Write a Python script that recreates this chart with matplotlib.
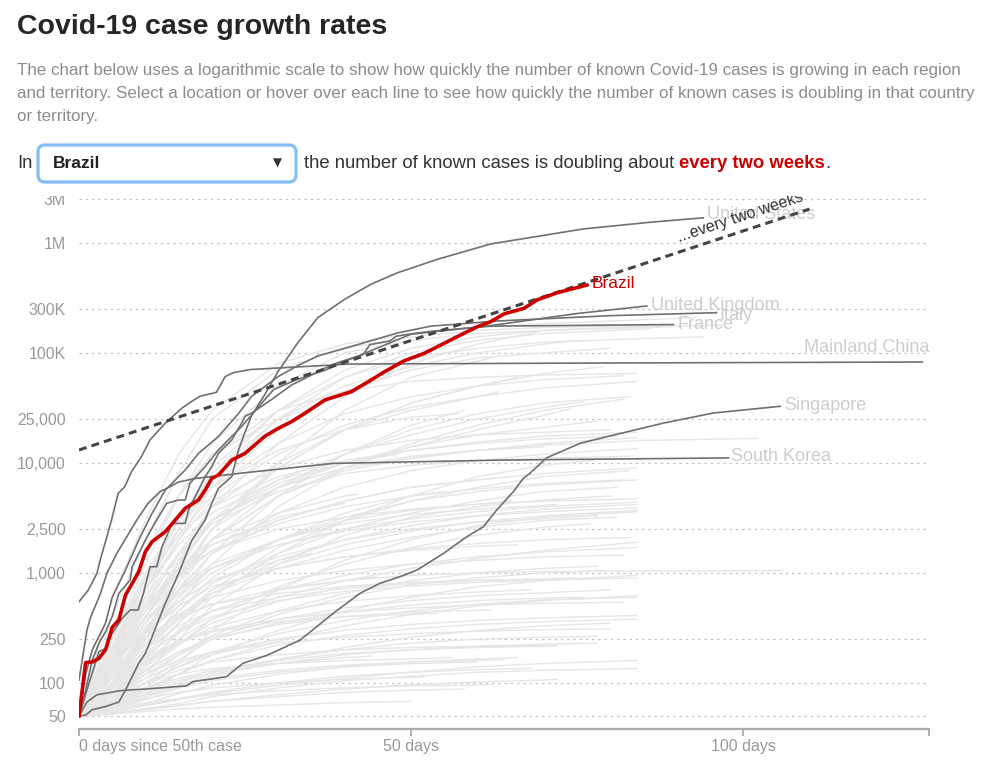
import matplotlib
matplotlib.use('Agg')
import matplotlib.pyplot as plt
from matplotlib.patches import FancyBboxPatch, Rectangle
from matplotlib.transforms import IdentityTransform

plt.rcParams['font.family'] = ['Liberation Sans', 'DejaVu Sans']

W, H = 986, 763

# axis ticks (the graphic rounds some of its tick labels)
y_ticks = [50, 100, 250, 1000, 2500, 10000, 25000, 100000, 250000, 1000000, 2500000]
y_tick_labels = ['50', '100', '250', '1,000', '2,500', '10,000', '25,000',
                 '100K', '300K', '1M', '3M']
x_ticks = [0, 50, 100, 128]
x_tick_labels = ['0 days since 50th case', '50 days', '100 days', '']

# selected country
brazil_days = [0, 1, 2, 3, 4, 5, 6, 7, 8, 9, 10, 11, 13, 16, 18, 19, 20, 21, 23, 25,
               28, 30, 32, 34, 37, 41, 44, 46, 49, 52, 54, 58, 60, 62, 64, 67, 69, 72, 76.5]
brazil_cases = [50, 153, 155, 167, 200, 320, 373, 630, 800, 1025, 1560, 1920, 2370, 3870,
                4600, 5670, 7240, 7760, 10600, 12200, 17500, 20600, 23700, 28200, 37300,
                44400, 56700, 67400, 84900, 99100, 114000, 151000, 173000, 192000, 226000,
                254000, 303000, 352000, 414000]

# other labelled locations
us_days = [0, 1, 2, 4, 6, 7, 8, 9, 10, 11, 12, 13, 15, 16, 17, 19, 20, 21, 23, 24, 25,
           26, 28, 30, 33, 36, 40, 44, 48, 54, 62, 68, 76, 86, 94]
us_cases = [50, 51, 57, 61, 67, 86, 114, 151, 186, 262, 373, 529, 991, 1403, 1990, 3026,
            4290, 5870, 7490, 13000, 19000, 27000, 42000, 68000, 125000, 210000, 307000,
            422000, 536000, 710000, 978000, 1120000, 1340000, 1540000, 1690000]

uk_days = [0, 1.5, 3, 4, 5, 6.5, 7.7, 8.9, 9.7, 10.2, 10.7, 11.7, 12.5, 13.4, 14, 16, 16.5,
           18, 19, 20, 21, 23, 24.5, 25, 26, 29, 32, 34, 38, 42, 50, 54, 62, 75, 85.5]
uk_cases = [50, 99, 192, 206, 282, 387, 460, 460, 651, 861, 1138, 1138, 1730, 2290, 2820,
            2820, 3730, 5670, 7490, 9260, 12200, 16200, 23000, 26500, 28400, 37700, 51000,
            58500, 77800, 93500, 148000, 157000, 177000, 228000, 267000]

italy_days = [0, 1, 2, 4, 5, 7, 9, 11, 13, 16, 18, 21, 24, 26, 30, 33, 36, 43, 48, 53, 63,
              80, 96]
italy_cases = [50, 120, 200, 350, 600, 1062, 1990, 3480, 5670, 8630, 12200, 17400, 28000,
               40300, 61000, 77000, 94000, 124000, 152000, 175000, 195000, 218000, 232000]

france_days = [0, 1, 2, 3, 4, 5, 6, 7.7, 8, 10, 11.4, 13.2, 15, 16, 16.7, 19, 21, 23,
               24.5, 29.3, 32.8, 35.8, 37.3, 39.3, 42.8, 43.8, 46.8, 47.8, 49.8, 52.9,
               61.9, 89.5]
france_cases = [50, 86, 162, 229, 292, 401, 651, 861, 1138, 1990, 2820, 4290, 4600, 4600,
                6520, 9260, 13100, 17400, 21500, 46400, 57200, 65800, 70600, 81300, 96800,
                119000, 128000, 142000, 148000, 157000, 175000, 181000]

china_days = [0, 1.4, 2.7, 3.2, 4.2, 4.9, 5.9, 6.9, 7.9, 9.4, 10.7, 13, 15.5, 17, 18.2,
              20.7, 22, 23.2, 25.8, 40.8, 78.4, 127]
china_cases = [547, 698, 991, 1310, 2134, 3026, 5290, 6080, 8300, 11400, 16200, 23000,
               31500, 36300, 40300, 43800, 60800, 66000, 70600, 79200, 80900, 82600]

singapore_days = [0, 1.2, 2.7, 6.2, 11.2, 16.2, 17.2, 19.7, 22.2, 24.7, 28.3, 33.3, 38.3,
                  42.3, 45.3, 48.3, 50.9, 54.9, 58.4, 60.9, 62.9, 65.4, 66.9, 67.9, 70.4,
                  75.5, 80.5, 88, 95.5, 105.6]
singapore_cases = [50, 67, 78, 85, 89, 94, 103, 108, 114, 151, 178, 245, 430, 651, 804, 922,
                   1062, 1506, 2134, 2630, 3730, 5470, 7220, 8040, 11100, 15100, 17900,
                   23000, 28400, 32700]

korea_days = [0, 1.2, 1.7, 2.2, 3.2, 4.2, 5.7, 7.2, 8.7, 10.4, 12.2, 13.7, 15, 17.5, 25,
              38.3, 63.4, 97.8]
korea_cases = [106, 303, 387, 460, 640, 991, 1506, 2134, 3026, 4290, 5470, 6080, 6700,
               7220, 8140, 9900, 10600, 11100]

# doubling-every-two-weeks guide
guide_days = [0, 110]
guide_cases = [13100, 2030000]

# every other location, read at common days plus its last day
bg_grid_days = [0, 5, 10, 15, 20, 30, 40, 50, 60, 70, 85]
bg_end_days = [93, 97, 88, 75, 70, 62, 80, 102, 94, 84, 83, 82, 78, 84, 80, 76, 66, 58,
               84, 83, 82, 81, 80, 84, 72, 65, 60, 84, 78, 84, 84, 82, 106, 78, 75, 84,
               70, 68, 80, 84, 84, 80, 78, 70, 66, 60, 84, 56, 50, 72, 62, 54, 45, 40, 48,
               36, 57,
               86, 90, 84, 82, 79, 74, 84, 83, 80, 84, 81, 84, 77, 84, 83, 79, 84, 76, 84,
               82, 80, 84, 78, 72, 84, 68, 64, 58, 52, 62, 66, 70, 63, 55, 46, 44, 42, 38,
               35, 84, 84, 81, 84]
bg_cases = [
    [50, 600, 3000, 12000, 30000, 80000, 120000, 150000, 170000, 185000, 200000, 210000],
    [50, 250, 1200, 5000, 15000, 50000, 100000, 130000, 150000, 160000, 170000, 180000],
    [50, 150, 700, 2500, 7000, 25000, 60000, 100000, 130000, 150000, 165000, 175000],
    [50, 200, 800, 3000, 8000, 25000, 50000, 75000, 100000, 120000, 130000],
    [50, 120, 400, 1200, 4000, 15000, 40000, 80000, 120000, 160000],
    [50, 100, 300, 900, 2500, 10000, 30000, 60000, 90000],
    [50, 180, 600, 2000, 6000, 20000, 45000, 70000, 90000, 100000, 110000],
    [50, 130, 500, 1500, 3000, 6000, 9000, 11000, 13000, 14500, 16000, 16700],
    [50, 200, 900, 3000, 9000, 30000, 60000, 90000, 110000, 125000, 135000, 140000],
    [50, 150, 500, 1500, 4000, 10000, 20000, 30000, 40000, 48000, 55000],
    [50, 100, 250, 700, 2000, 6000, 12000, 20000, 28000, 35000, 40000],
    [50, 90, 200, 500, 1200, 4000, 9000, 15000, 22000, 30000, 38000],
    [50, 130, 400, 1000, 2500, 6000, 10000, 14000, 18000, 21000, 24000],
    [50, 110, 300, 800, 2000, 5000, 8500, 11000, 13000, 15000, 17000],
    [50, 200, 700, 2000, 4500, 9000, 13000, 16000, 18000, 19000, 20000],
    [50, 160, 450, 1200, 3000, 7000, 12000, 18000, 25000, 32000, 36000],
    [50, 140, 400, 1100, 3000, 9000, 20000, 35000, 50000, 60000],
    [50, 100, 250, 600, 1500, 5000, 12000, 22000, 30000],
    [50, 120, 300, 700, 1500, 3000, 4500, 6000, 7000, 8000, 9000],
    [50, 80, 160, 350, 700, 1700, 3000, 4500, 6000, 7500, 8500],
    [50, 150, 400, 900, 1600, 2800, 4000, 5000, 5800, 6500, 7000],
    [50, 100, 220, 450, 800, 1500, 2500, 3500, 4500, 5500, 6000],
    [50, 70, 120, 250, 500, 1200, 2200, 3200, 4000, 4600, 5000],
    [50, 90, 180, 350, 650, 1300, 2000, 2700, 3300, 3800, 4200],
    [50, 130, 350, 700, 1200, 2000, 2800, 3400, 3800, 4100, 4200],
    [50, 110, 280, 600, 1100, 2000, 3000, 3700, 4200, 4500],
    [50, 170, 500, 1100, 1800, 3000, 4500, 6000, 7000],
    [50, 60, 90, 150, 300, 700, 1300, 2000, 2700, 3200, 3600],
    [50, 140, 300, 550, 850, 1400, 2000, 2500, 2900, 3100, 3300],
    [50, 100, 200, 400, 700, 1200, 1800, 2400, 2900, 3300, 3700],
    [50, 90, 170, 300, 450, 700, 950, 1200, 1400, 1550, 1700],
    [50, 120, 250, 420, 600, 850, 1050, 1200, 1300, 1400, 1450],
    [50, 80, 150, 280, 450, 700, 850, 950, 1000, 1030, 1040, 1050],
    [50, 70, 110, 180, 270, 450, 650, 850, 1000, 1100, 1150],
    [50, 100, 200, 330, 450, 600, 720, 800, 850, 880, 900],
    [50, 60, 80, 120, 180, 300, 450, 600, 750, 850, 950],
    [50, 130, 260, 400, 520, 650, 750, 820, 860, 880],
    [50, 90, 150, 230, 320, 450, 550, 620, 670, 700],
    [50, 80, 130, 190, 260, 380, 480, 560, 620, 660, 700],
    [50, 70, 100, 140, 190, 280, 370, 450, 520, 570, 600],
    [50, 65, 90, 120, 160, 220, 270, 310, 340, 360, 380],
    [50, 80, 120, 160, 190, 230, 260, 280, 295, 305, 310],
    [50, 60, 75, 95, 120, 150, 180, 200, 215, 225, 230],
    [50, 70, 100, 130, 155, 180, 200, 210, 215, 220],
    [50, 55, 65, 80, 95, 120, 140, 155, 165, 170],
    [50, 60, 75, 90, 105, 125, 140, 150, 155],
    [50, 55, 62, 70, 80, 95, 110, 125, 140, 150, 160],
    [50, 75, 100, 120, 135, 150, 160, 165, 170],
    [50, 52, 55, 58, 60, 63, 66, 68],
    [50, 53, 57, 62, 68, 78, 88, 96, 102, 106, 108],
    [50, 58, 66, 72, 78, 85, 90, 94, 96],
    [50, 90, 160, 230, 290, 360, 400, 420, 430],
    [50, 110, 230, 380, 520, 720, 850, 920],
    [50, 150, 450, 1000, 1800, 3200, 4300],
    [50, 200, 700, 1800, 3500, 7000, 10000, 12000],
    [50, 300, 1500, 5000, 12000, 25000, 33000],
    [50, 250, 1000, 3000, 6000, 13000, 20000, 26000, 28000],
    [50, 400, 2000, 8000, 25000, 70000, 110000, 140000, 160000, 170000, 178000, 180000],
    [50, 180, 700, 2500, 8000, 30000, 70000, 110000, 140000, 160000, 175000, 180000],
    [50, 300, 1500, 5000, 12000, 30000, 45000, 55000, 60000, 63000, 65000],
    [50, 250, 900, 2500, 6000, 15000, 28000, 40000, 50000, 57000, 62000],
    [50, 90, 250, 800, 2500, 9000, 20000, 35000, 50000, 65000, 75000],
    [50, 130, 350, 900, 2000, 5000, 9000, 14000, 20000, 27000, 31000],
    [50, 100, 280, 700, 1500, 3500, 6000, 8500, 10500, 12000, 13500],
    [50, 140, 450, 1300, 2800, 5500, 8000, 9500, 10500, 11000, 11500],
    [50, 75, 140, 300, 600, 1500, 3000, 5000, 7500, 9500, 11000],
    [50, 110, 260, 550, 1000, 2000, 3200, 4500, 5500, 6300, 7000],
    [50, 95, 200, 380, 650, 1100, 1600, 2100, 2600, 3000, 3200],
    [50, 160, 380, 700, 1100, 1800, 2400, 2900, 3300, 3600, 3900],
    [50, 70, 130, 220, 380, 750, 1200, 1700, 2200, 2600, 2800],
    [50, 85, 150, 250, 380, 600, 850, 1100, 1350, 1600, 1900],
    [50, 120, 280, 500, 750, 1100, 1400, 1650, 1850, 2000, 2100],
    [50, 65, 100, 160, 250, 420, 600, 780, 900, 1000, 1050],
    [50, 95, 180, 290, 400, 560, 680, 760, 820, 860, 900],
    [50, 75, 120, 180, 250, 350, 440, 510, 560, 590, 600],
    [50, 60, 85, 120, 160, 240, 330, 420, 500, 560, 620],
    [50, 100, 170, 240, 300, 380, 440, 480, 510, 530, 540],
    [50, 58, 70, 90, 115, 160, 210, 260, 300, 330, 350],
    [50, 75, 110, 150, 190, 250, 300, 340, 370, 390, 410],
    [50, 62, 80, 100, 125, 165, 200, 230, 250, 260, 265],
    [50, 68, 90, 110, 130, 160, 185, 200, 210, 215, 218],
    [50, 52, 58, 65, 75, 90, 105, 115, 125, 130, 135],
    [50, 56, 63, 72, 82, 100, 115, 125, 132, 136],
    [50, 62, 78, 95, 110, 130, 145, 155, 160, 162],
    [50, 54, 58, 63, 68, 75, 82, 86, 88],
    [50, 60, 72, 82, 90, 100, 108, 112, 114],
    [50, 80, 130, 190, 250, 340, 400, 440, 460],
    [50, 120, 280, 500, 750, 1100, 1400, 1600, 1750, 1800],
    [50, 180, 600, 1500, 3000, 6000, 9000, 11500, 13000, 14000],
    [50, 220, 800, 2200, 5000, 12000, 22000, 32000, 40000, 44000],
    [50, 90, 200, 450, 900, 2000, 3500, 5000, 5500],
    [50, 80, 140, 230, 350, 550, 750, 800],
    [50, 65, 85, 105, 125, 150, 170, 175],
    [50, 180, 500, 1100, 2000, 3500, 5000, 5200],
    [50, 70, 100, 140, 180, 250, 290],
    [50, 120, 300, 550, 850, 1300, 1500],
    [50, 200, 500, 1000, 1600, 2500, 3200, 3800, 4200, 4500, 4700],
    [50, 140, 320, 650, 1100, 1800, 2500, 3100, 3600, 4000, 4400],
    [50, 220, 900, 2200, 4000, 7500, 10500, 13000, 15000, 16500, 17500],
    [50, 170, 550, 1400, 3000, 6500, 10000, 13000, 15500, 17500, 19000],
]

named = [
    ('United States', us_days, us_cases, (4, 3), 'left'),
    ('United Kingdom', uk_days, uk_cases, (4, 0), 'left'),
    ('Italy', italy_days, italy_cases, (3, -3), 'left'),
    ('France', france_days, france_cases, (4, 0), 'left'),
    ('Mainland China', china_days, china_cases, (7, 15), 'right'),
    ('Singapore', singapore_days, singapore_cases, (4, 1), 'left'),
    ('South Korea', korea_days, korea_cases, (3, 1), 'left'),
]

fig = plt.figure(figsize=(W / 100, H / 100), dpi=100)
ax = fig.add_axes([79 / W, (H - 729) / H, 850 / W, 534 / H])
ax.set_yscale('log')
ax.set_xlim(0, 128)
ax.set_ylim(38.1, 2.725e6)

# dotted grid
for v in y_ticks:
    ax.axhline(v, color='#c4c4c4', lw=0.9, ls=(0, (2, 3)), zorder=0)

# background locations
for end, vals in zip(bg_end_days, bg_cases):
    days = bg_grid_days[:len(vals) - 1] + [end]
    ax.plot(days, vals, color='#e6e6e6', lw=1, zorder=1, solid_joinstyle='round')

# labelled locations
for name, d, c, off, ha in named:
    ax.plot(d, c, color='#707070', lw=1.2, zorder=3)
    ax.annotate(name, (d[-1], c[-1]), xytext=off, textcoords='offset pixels',
                ha=ha, va='center', fontsize=13, color='#cdcdcd', zorder=2)

ax.plot(guide_days, guide_cases, color='#444444', lw=2.2, ls=(0, (2.6, 1.7)), zorder=4)
ax.annotate('...every two weeks', (guide_days[1], guide_cases[1]), xytext=(-4, 5),
            textcoords='offset pixels', ha='right', va='bottom', rotation=18.3,
            rotation_mode='anchor', fontsize=11.5, color='#333333', zorder=5)

ax.plot(brazil_days, brazil_cases, color='#cc0000', lw=2.6, zorder=6,
        solid_joinstyle='round')
ax.annotate('Brazil', (brazil_days[-1], brazil_cases[-1]), xytext=(5, 2),
            textcoords='offset pixels', ha='left', va='center', fontsize=12.5,
            color='#cc0000', zorder=6)

# axes styling
for s in ['top', 'right', 'left']:
    ax.spines[s].set_visible(False)
ax.spines['bottom'].set_color('#aaaaaa')
ax.spines['bottom'].set_linewidth(1.6)
ax.set_yticks(y_ticks)
ax.set_yticklabels(y_tick_labels)
ax.yaxis.set_minor_locator(plt.NullLocator())
ax.tick_params(axis='y', length=0, pad=9.5, labelsize=11.5, labelcolor='#999999')
ax.set_xticks(x_ticks)
ax.set_xticklabels(x_tick_labels)
ax.tick_params(axis='x', length=5, width=1.3, color='#aaaaaa', pad=2,
               labelsize=11.5, labelcolor='#999999')
ax.get_xticklabels()[0].set_horizontalalignment('left')
ax.patch.set_alpha(0)

# header
fig.text(17 / W, 1 - 27 / H, 'Covid-19 case growth rates', fontsize=20.5,
         fontweight='bold', color='#262626', va='center')
sub = ['The chart below uses a logarithmic scale to show how quickly the number of known Covid-19 cases is growing in each region',
       'and territory. Select a location or hover over each line to see how quickly the number of known cases is doubling in that country',
       'or territory.']
for i, line in enumerate(sub):
    fig.text(17 / W, 1 - (71 + 22.5 * i) / H, line, fontsize=12.25, color='#8c8c8c',
             va='center')

# selector row
fig.canvas.draw()
r = fig.canvas.get_renderer()
row_y = 1 - 163 / H
fig.text(17 / W, row_y, 'In', fontsize=13.3, color='#333333', va='center')
box = FancyBboxPatch((38, H - 182), 258, 37, boxstyle='round,pad=0,rounding_size=7',
                     transform=IdentityTransform(), facecolor='white',
                     edgecolor='#84bdf5', lw=2.3)
fig.patches.append(box)
fig.text(53 / W, row_y, 'Brazil', fontsize=12.5, fontweight='bold', color='#222222',
         va='center')
fig.text(277 / W, row_y, '\u25bc', fontsize=8.5, color='#333333', va='center',
         ha='center', family='DejaVu Sans')
x = 304
for s, col, wt in [('the number of known cases is doubling about ', '#333333', 'normal'),
                   ('every two weeks', '#cc0000', 'bold'), ('.', '#333333', 'normal')]:
    t = fig.text(x / W, row_y, s, fontsize=13.3, color=col, fontweight=wt, va='center')
    x = t.get_window_extent(renderer=r).x1

# the original graphic is cut off just above the top gridline
fig.patches.append(Rectangle((0, H - 196), W, 8, transform=IdentityTransform(),
                             facecolor='white', edgecolor='none', zorder=10))

fig.savefig('out.png', dpi=100, facecolor='white')
